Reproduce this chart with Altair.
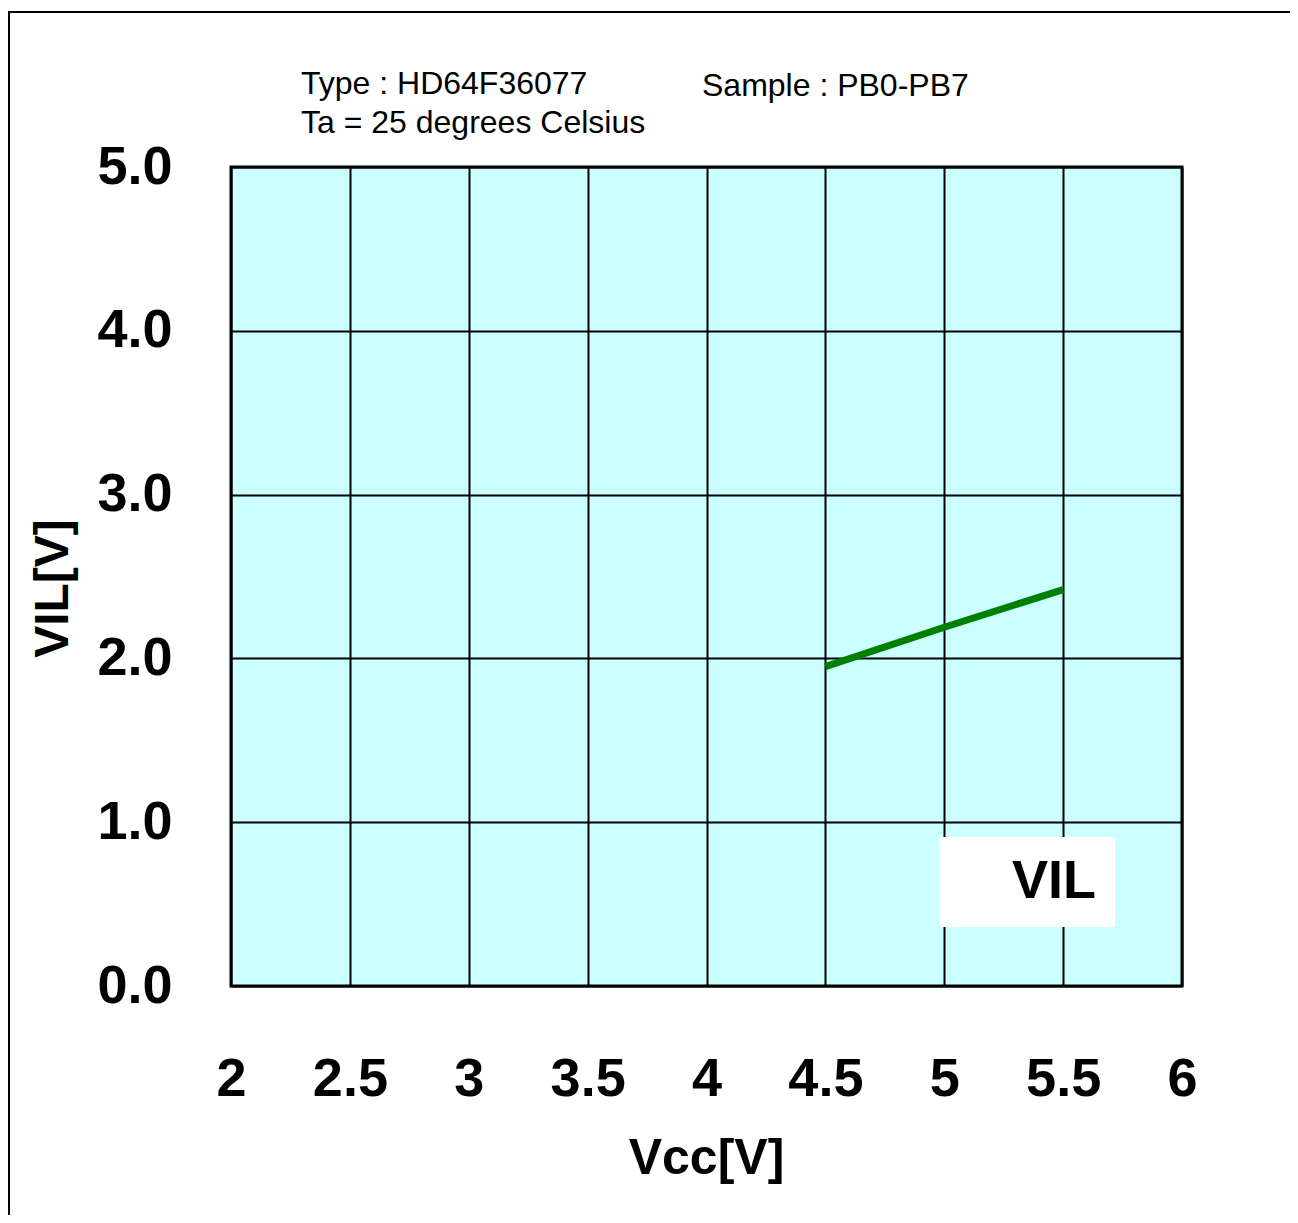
import altair as alt
import pandas as pd

# ---- data ----
vcc = [4.5, 5.0, 5.5]
vil = [1.95, 2.19, 2.42]
series = ["VIL", "VIL", "VIL"]

x_ticks = [2, 2.5, 3, 3.5, 4, 4.5, 5, 5.5, 6]
y_ticks = [0, 1, 2, 3, 4, 5]

type_text = "Type : HD64F36077"
temp_text = "Ta = 25 degrees Celsius"
sample_text = "Sample : PB0-PB7"
x_title = "Vcc[V]"
y_title = "VIL[V]"

df = pd.DataFrame({"Vcc": vcc, "VIL": vil, "series": series})

BOLD = "Liberation Sans, Arial, sans-serif"
REG = "Liberation Sans, Arial, sans-serif"

line = alt.Chart(df).mark_line(strokeWidth=7, strokeCap="butt").encode(
    x=alt.X(
        "Vcc:Q",
        scale=alt.Scale(domain=[2, 6], nice=False, zero=False),
        axis=alt.Axis(
            values=x_ticks,
            format=".1~f",
            title=x_title,
            titleFont=REG,
            titleFontSize=50,
            titleFontWeight="bold",
            titleColor="black",
            titleBaseline="middle",
            titleAnchor="middle",
            titleX=475,
            titleY=172,
            labelFont=BOLD,
            labelFontSize=54,
            labelFontWeight="bold",
            labelColor="black",
            labelBaseline="middle",
            labelPadding=93,
            labelFlush=False,
            labelOverlap=False,
            tickSize=0,
            domain=False,
            grid=True,
            gridColor="black",
            gridWidth=2,
            gridOpacity=1,
        ),
    ),
    y=alt.Y(
        "VIL:Q",
        scale=alt.Scale(domain=[0, 5], nice=False),
        axis=alt.Axis(
            values=y_ticks,
            format=".1f",
            title=y_title,
            titleFont=BOLD,
            titleFontSize=48,
            titleFontWeight="bold",
            titleColor="black",
            titleAngle=270,
            titleBaseline="middle",
            titleAlign="center",
            titleX=-178,
            titleY=421,
            labelFont=BOLD,
            labelFontSize=54,
            labelFontWeight="bold",
            labelColor="black",
            labelAlign="right",
            labelBaseline="middle",
            labelPadding=59,
            labelFlush=False,
            labelOverlap=False,
            tickSize=0,
            domain=False,
            grid=True,
            gridColor="black",
            gridWidth=2,
            gridOpacity=1,
        ),
    ),
    color=alt.Color(
        "series:N",
        scale=alt.Scale(domain=["VIL"], range=["#008000"]),
        legend=alt.Legend(
            title=None,
            orient="none",
            legendX=709,
            legendY=670,
            fillColor="white",
            padding=18,
            symbolOpacity=0,
            symbolSize=100,
            labelOffset=0,
            labelFont=BOLD,
            labelFontSize=54,
            labelFontWeight="bold",
            labelColor="black",
            labelLimit=400,
        ),
    ),
)

one = pd.DataFrame({"k": [0]})

frame = alt.Chart(one).mark_rect(
    fillOpacity=0, stroke="black", strokeWidth=2
).encode(
    x=alt.value(-222), x2=alt.value(1200),
    y=alt.value(-155), y2=alt.value(1200),
)

t1 = alt.Chart(one).mark_text(
    align="left", baseline="middle", font=REG, fontSize=32, color="black"
).encode(x=alt.value(70), y=alt.value(-83), text=alt.value(type_text))

t2 = alt.Chart(one).mark_text(
    align="left", baseline="middle", font=REG, fontSize=32, color="black"
).encode(x=alt.value(70), y=alt.value(-44), text=alt.value(temp_text))

t3 = alt.Chart(one).mark_text(
    align="left", baseline="middle", font=REG, fontSize=32, color="black"
).encode(x=alt.value(471), y=alt.value(-81), text=alt.value(sample_text))

chart = alt.layer(frame, line, t1, t2, t3).properties(
    width=951,
    height=819,
    autosize=alt.AutoSizeParams(type="none"),
    padding={"left": 223, "top": 159, "right": 108, "bottom": 229},
    background="white",
).configure_view(
    fill="#CCFFFF", stroke="black", strokeWidth=3
)

chart.save("out.html", embed_options={"renderer": "svg", "actions": False})
